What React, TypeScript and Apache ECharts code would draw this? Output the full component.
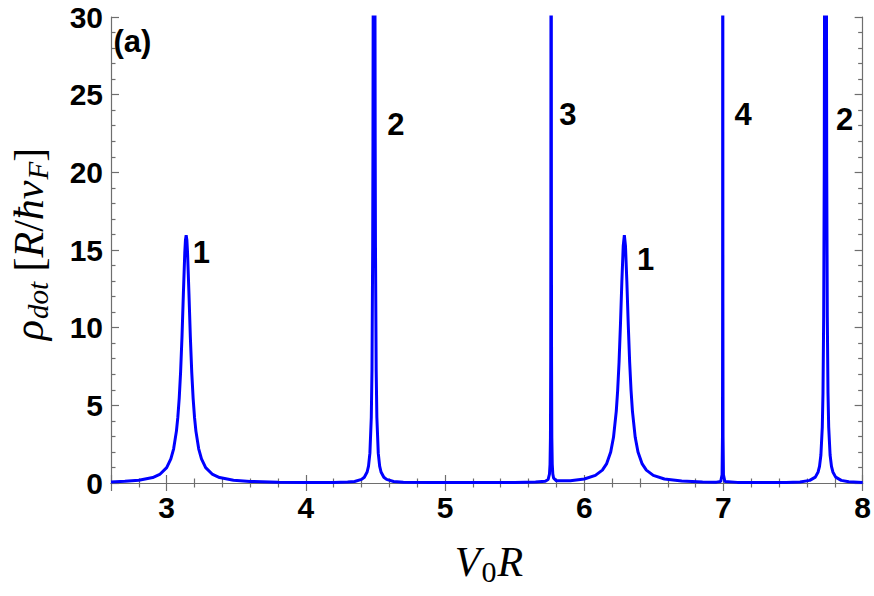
import React, { useEffect, useRef } from "react";
import * as echarts from "echarts";

// ---- data (V0R, rho_dot) ----
const segA: [number, number][] = [
  [2.6, 0.06], [2.7, 0.11], [2.8, 0.18], [2.9, 0.35], [2.95, 0.55], [3.0, 0.99],
  [3.03, 1.55], [3.05, 2.2], [3.07, 3.34], [3.08, 4.22], [3.09, 5.45], [3.1, 7.14],
  [3.11, 9.41], [3.12, 12.19], [3.13, 14.81], [3.135, 15.65], [3.14, 15.95],
  [3.145, 15.65], [3.15, 14.81], [3.16, 12.19], [3.17, 9.41], [3.18, 7.14],
  [3.19, 5.45], [3.2, 4.22], [3.21, 3.34], [3.23, 2.2], [3.25, 1.55], [3.28, 0.99],
  [3.33, 0.55], [3.38, 0.35], [3.48, 0.18], [3.6, 0.1], [3.8, 0.05], [4.0, 0.035],
  [4.2, 0.04],
];
const segB: [number, number][] = [
  [4.3, 0.065], [4.35, 0.1], [4.4, 0.23], [4.42, 0.37], [4.44, 0.71], [4.45, 1.09],
  [4.46, 1.92], [4.47, 4.23], [4.475, 7.3], [4.48, 15.2], [4.482, 22], [4.484, 33.8],
  [4.486, 55], [4.488, 88], [4.49, 110], [4.492, 88], [4.494, 55], [4.496, 33.8],
  [4.498, 22], [4.5, 15.2], [4.505, 7.3], [4.51, 4.23], [4.52, 1.92], [4.53, 1.09],
  [4.54, 0.71], [4.56, 0.37], [4.58, 0.23], [4.63, 0.1], [4.7, 0.05],
];
const segC: [number, number][] = [
  [4.9, 0.03], [5.1, 0.03], [5.3, 0.03], [5.5, 0.04], [5.65, 0.06], [5.72, 0.11],
  [5.74, 0.22], [5.75, 0.57], [5.754, 1.19], [5.757, 2.9], [5.759, 7.8], [5.76, 16.6],
  [5.7605, 27.7], [5.761, 53], [5.7615, 118], [5.762, 200], [5.7625, 118], [5.763, 53],
  [5.7635, 27.7], [5.764, 16.6], [5.765, 7.8], [5.767, 2.9], [5.77, 1.2], [5.774, 0.58],
  [5.78, 0.31], [5.8, 0.14], [5.9, 0.15],
];
const segD: [number, number][] = [
  [6.0, 0.26], [6.08, 0.49], [6.13, 0.83], [6.16, 1.23], [6.19, 2.0], [6.21, 2.94],
  [6.23, 4.63], [6.24, 5.97], [6.25, 7.79], [6.26, 10.2], [6.27, 12.96], [6.28, 15.27],
  [6.288, 15.95], [6.296, 15.27], [6.306, 12.96], [6.316, 10.2], [6.326, 7.79],
  [6.336, 5.97], [6.346, 4.63], [6.366, 2.94], [6.386, 2.0], [6.416, 1.23],
  [6.446, 0.83], [6.496, 0.49], [6.576, 0.26], [6.7, 0.13],
];
const segE: [number, number][] = [
  [6.85, 0.07], [6.95, 0.056], [6.98, 0.1], [6.99, 0.53], [6.993, 3.0], [6.994, 11.5],
  [6.9943, 22.6], [6.9946, 60], [6.9948, 150], [6.995, 300], [6.9952, 150],
  [6.9954, 60], [6.9957, 22.6], [6.996, 11.5], [6.997, 3.0], [7.0, 0.53], [7.01, 0.1],
  [7.1, 0.04],
];
const segF: [number, number][] = [
  [7.3, 0.03], [7.45, 0.04], [7.55, 0.07], [7.62, 0.17], [7.66, 0.38], [7.68, 0.71],
  [7.69, 1.07], [7.7, 1.8], [7.71, 3.6], [7.715, 5.8], [7.72, 10.7], [7.724, 20],
  [7.727, 36], [7.73, 69], [7.733, 100], [7.736, 69], [7.739, 36], [7.742, 20],
  [7.746, 10.7], [7.751, 5.8], [7.756, 3.6], [7.766, 1.8], [7.776, 1.07],
  [7.786, 0.71], [7.806, 0.38], [7.846, 0.17], [7.9, 0.08], [8.0, 0.03],
];

// peak labels (resonance indices) and panel tag, in data coordinates
const peakLabels: string[] = ["1", "2", "3", "1", "4", "2"];
const peakLabelX: number[] = [3.249, 4.647, 5.883, 6.441, 7.142, 7.871];
const peakLabelY: number[] = [14.86, 23.07, 23.7, 14.41, 23.7, 23.4];
const panelTag = { text: "(a)", x: 2.754, y: 28.45 };

const xTickLabels = ["3", "4", "5", "6", "7", "8"];
const yTickLabels = ["0", "5", "10", "15", "20", "25", "30"];

const X_MIN = 2.6;
const X_MAX = 8;
const Y_MIN = 0;
const Y_MAX = 30;

const SANS = "'Liberation Sans', Arial, Helvetica, sans-serif";
const SERIF = "'Liberation Serif', 'Times New Roman', serif";
const FRAME = "#6e6e6e";

export default function App() {
  const ref = useRef<HTMLDivElement>(null);

  useEffect(() => {
    if (!ref.current) return;
    const chart = echarts.init(ref.current, null, { renderer: "svg" });
    const curve = [...segA, ...segB, ...segC, ...segD, ...segE, ...segF];

    const tickCommon = {
      axisLine: { show: true, lineStyle: { color: FRAME, width: 1.2 } },
      axisTick: { show: true, inside: true, length: 8, lineStyle: { color: FRAME, width: 1.2 } },
      minorTick: { show: true, splitNumber: 5, length: 4.5, lineStyle: { color: FRAME, width: 1.2 } },
      splitLine: { show: false },
      minorSplitLine: { show: false },
    };

    const xBase = {
      type: "value" as const,
      min: X_MIN,
      max: X_MAX,
      splitNumber: 5,
      minInterval: 1,
      maxInterval: 1,
      ...tickCommon,
    };
    const yBase = {
      type: "value" as const,
      min: Y_MIN,
      max: Y_MAX,
      interval: 5,
      ...tickCommon,
    };

    const annotations = peakLabels.map((t, i) => ({
      name: t,
      value: [peakLabelX[i], peakLabelY[i]],
    }));
    annotations.push({ name: panelTag.text, value: [panelTag.x, panelTag.y] });

    chart.setOption({
      animation: false,
      backgroundColor: "#ffffff",
      grid: { left: 111, right: 10, top: 17, bottom: 113, containLabel: false },
      xAxis: [
        {
          ...xBase,
          position: "bottom",
          axisLabel: {
            show: true,
            showMinLabel: false,
            showMaxLabel: true,
            margin: 9,
            color: "#000",
            fontSize: 30,
            fontWeight: "bold",
            fontFamily: SANS,
            formatter: (v: number) => {
              const s = String(Math.round(v));
              return xTickLabels.includes(s) && Math.abs(v - Math.round(v)) < 1e-9 ? s : "";
            },
          },
        },
        { ...xBase, position: "top", axisLabel: { show: false } },
      ],
      yAxis: [
        {
          ...yBase,
          position: "left",
          axisLabel: {
            show: true,
            margin: 8,
            color: "#000",
            fontSize: 30,
            fontWeight: "bold",
            fontFamily: SANS,
            formatter: (v: number) => {
              const s = String(Math.round(v));
              return yTickLabels.includes(s) ? s : "";
            },
          },
        },
        { ...yBase, position: "right", axisLabel: { show: false } },
      ],
      series: [
        {
          type: "line",
          xAxisIndex: 0,
          yAxisIndex: 0,
          data: curve,
          showSymbol: false,
          symbol: "none",
          smooth: false,
          clip: true,
          lineStyle: { color: "#0000ff", width: 3 },
          z: 3,
        },
        {
          type: "scatter",
          xAxisIndex: 0,
          yAxisIndex: 0,
          data: annotations,
          symbolSize: 0,
          itemStyle: { color: "#000", opacity: 1 },
          silent: true,
          label: {
            show: true,
            position: "inside",
            formatter: "{b}",
            color: "#000",
            opacity: 1,
            textBorderWidth: 0,
            fontSize: 31,
            fontWeight: "bold",
            fontFamily: SANS,
          },
          z: 4,
        },
      ],
      graphic: [
        {
          type: "text",
          x: 489,
          y: 562,
          style: {
            text: "{i|V}{s|0}{i|R}",
            align: "center",
            verticalAlign: "middle",
            fill: "#000",
            rich: {
              i: { fontSize: 42, fontStyle: "italic", fontFamily: SERIF, fill: "#000" },
              s: { fontSize: 30, fontFamily: SERIF, fill: "#000", padding: [18, 1, 0, 1] },
            },
          },
        },
        {
          type: "text",
          x: 29,
          y: 244,
          rotation: Math.PI / 2,
          style: {
            text: "{i|ρ}{s|dot}{n| [}{i|R}{n|/}{i|ħv}{s|F}{n|]}",
            align: "center",
            verticalAlign: "middle",
            fill: "#000",
            rich: {
              i: { fontSize: 42, fontStyle: "italic", fontFamily: SERIF, fill: "#000" },
              n: { fontSize: 42, fontFamily: SERIF, fill: "#000" },
              s: { fontSize: 29, fontStyle: "italic", fontFamily: SERIF, fill: "#000", padding: [18, 0, 0, 1] },
            },
          },
        },
      ],
    });

    return () => chart.dispose();
  }, []);

  return (
    <div
      ref={ref}
      style={{ position: "fixed", left: 0, top: 0, width: 874, height: 596, background: "#fff" }}
    />
  );
}
